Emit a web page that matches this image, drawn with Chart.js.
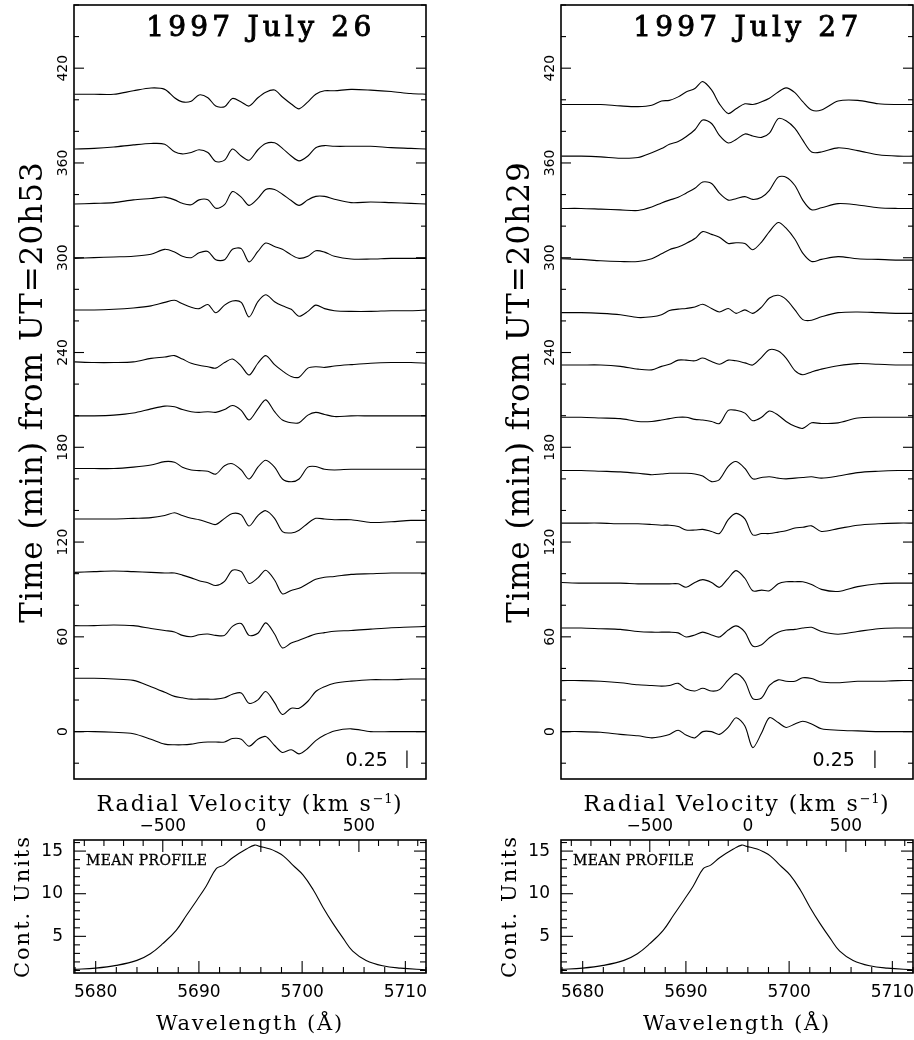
<!DOCTYPE html>
<html><head><meta charset="utf-8"><title>C III 5696 line-profile variations, 1997 July 26 and 27</title>
<script src="https://cdn.jsdelivr.net/npm/chart.js@4.4.1/dist/chart.umd.min.js"></script>
<style>
html,body{margin:0;padding:0;background:#fff}
#wrap{position:relative;width:914px;height:1040px;background:#fff;overflow:hidden}
#wrap canvas{position:absolute;left:0;top:0}
</style></head><body>
<div id="wrap">
<canvas id="p26" width="914" height="1040"></canvas>
<canvas id="p27" width="914" height="1040"></canvas>
<canvas id="m26" width="914" height="1040"></canvas>
<canvas id="m27" width="914" height="1040"></canvas>
</div>
<script>
// ---------------- DATA ----------------
// radial-velocity grid (km/s) shared by all residual spectra
const VEL = [-950,-850,-750,-650,-560,-490,-440,-400,-355,-315,-270,-230,-185,-145,-100,-60,-15,25,70,110,155,195,240,280,325,375,460,560,665,765,850];

// observation times (min from UT start), bottom to top
const JUL26_TIMES = [0, 33.3, 66.2, 100.4, 133.7, 166.1, 199.9, 233.2, 266.9, 299.6, 334.0, 368.8, 403.5];
const JUL27_TIMES = [0, 32.3, 65.6, 94.0, 132.0, 165.3, 199.0, 232.1, 264.8, 298.5, 331.2, 364.3, 397.0];

// residual flux (continuum units) for each time, on the VEL grid
const JUL26_RESID = [
 [0,0,-0.01,-0.03,-0.11,-0.18,-0.19,-0.19,-0.18,-0.16,-0.15,-0.15,-0.15,-0.10,-0.11,-0.21,-0.11,-0.07,-0.20,-0.30,-0.26,-0.32,-0.24,-0.13,-0.05,0.01,0.04,0,0,0,0],
 [0.01,0.01,0,-0.02,-0.11,-0.19,-0.25,-0.27,-0.29,-0.29,-0.29,-0.29,-0.27,-0.22,-0.20,-0.35,-0.30,-0.18,-0.34,-0.51,-0.42,-0.42,-0.32,-0.18,-0.11,-0.06,-0.03,-0.01,-0.01,0,0],
 [0.02,0.02,0.03,0.02,-0.02,-0.05,-0.07,-0.12,-0.14,-0.11,-0.10,-0.12,-0.12,0.01,0.05,-0.12,-0.09,0.06,-0.10,-0.30,-0.23,-0.19,-0.14,-0.10,-0.08,-0.06,-0.05,-0.03,-0.01,0,0.01],
 [0.01,0.02,0.03,0.02,0.01,0,0,-0.03,-0.07,-0.11,-0.14,-0.18,-0.12,0.04,0.02,-0.15,-0.07,0.04,-0.10,-0.30,-0.25,-0.22,-0.15,-0.09,-0.06,-0.05,-0.02,-0.01,0,0,0],
 [0.02,0.02,0.02,0.03,0.04,0.07,0.11,0.07,0.03,0.01,-0.03,-0.06,0.03,0.10,0.08,-0.08,0.07,0.14,0.03,-0.16,-0.18,-0.14,-0.04,0.03,0.02,0.01,0.01,-0.03,-0.02,0,0],
 [0.01,0.01,0.01,0.03,0.06,0.11,0.10,0.03,-0.01,-0.02,-0.03,-0.07,0.05,0.08,-0.01,-0.14,0.03,0.13,0.03,-0.14,-0.18,-0.14,0.03,0.04,0,-0.01,0,0,0,0,0],
 [0,0,0.01,0.04,0.10,0.14,0.13,0.09,0.06,0.05,0.06,0.05,0.09,0.15,0.08,-0.06,0.10,0.23,0.06,-0.06,-0.10,-0.10,0.01,0.05,0.02,-0.01,0,0,0,0,0],
 [0.02,0.01,0.01,0.02,0.07,0.09,0.11,0.06,0,-0.03,-0.05,-0.07,0.01,0.06,-0.04,-0.17,0,0.11,-0.02,-0.11,-0.19,-0.20,-0.07,-0.05,-0.06,-0.04,-0.02,0,0.01,0.01,0],
 [0,0,0.01,0.03,0.06,0.11,0.14,0.09,0.04,0.02,0.08,-0.04,0.07,0.13,0.11,-0.10,0.12,0.22,0.12,0.06,0.01,-0.09,-0.02,0.07,0.02,-0.01,-0.02,-0.02,-0.01,-0.01,0],
 [0,0.01,0.02,0.03,0.06,0.13,0.09,0.03,0.01,0.08,0.10,-0.02,-0.02,0.13,0.14,-0.05,0.10,0.22,0.17,0.13,0.05,0,0.03,0.11,0.09,0.03,-0.01,-0.01,0,0,0],
 [0,0.01,0.02,0.06,0.08,0.10,0.06,0.01,-0.01,0.06,0.06,-0.06,-0.01,0.18,0.10,-0.02,0.08,0.21,0.21,0.14,0.05,-0.02,0.06,0.11,0.11,0.07,0.02,0.03,0.02,0.01,0],
 [0,0.01,0.03,0.06,0.08,0.07,-0.04,-0.07,-0.05,-0.01,-0.05,-0.18,-0.16,0,-0.10,-0.16,-0.01,0.08,0.09,0.01,-0.10,-0.17,-0.10,0.02,0.05,0.04,0.04,0.04,0.02,0.01,0],
 [0,0,0,0.05,0.09,0.07,-0.05,-0.11,-0.10,-0.01,-0.05,-0.17,-0.18,-0.06,-0.11,-0.17,-0.05,0.03,0.06,-0.04,-0.14,-0.21,-0.11,0,0.05,0.05,0.07,0.06,0.04,0.01,0]
];
const JUL27_RESID = [
 [0,0,-0.01,-0.04,-0.06,-0.09,-0.07,-0.04,0.02,-0.05,-0.09,0,0,-0.04,0.06,0.20,0.08,-0.23,-0.02,0.20,0.13,0.06,0.11,0.15,0.11,0.04,0.02,0.01,0,0,0],
 [0,0,-0.01,-0.03,-0.06,-0.07,-0.08,-0.07,-0.04,-0.12,-0.15,-0.11,-0.15,-0.13,0.01,0.10,-0.01,-0.26,-0.25,-0.07,0.01,-0.01,-0.01,0.04,0.03,-0.02,-0.03,-0.01,-0.01,0,0],
 [0,0,-0.01,-0.02,-0.05,-0.06,-0.06,-0.06,-0.07,-0.13,-0.10,-0.06,-0.10,-0.13,-0.03,0.03,-0.06,-0.26,-0.24,-0.14,-0.06,-0.03,-0.02,0,0.01,-0.05,-0.09,-0.05,-0.01,0,0],
 [0.01,0,0,0,-0.01,-0.01,-0.01,-0.01,-0.01,-0.06,0.01,0.05,0.01,-0.06,0.07,0.18,0.07,-0.11,-0.10,-0.11,-0.01,0.02,0.02,0.02,-0.02,-0.09,-0.12,-0.05,-0.01,0,0],
 [0,0,0,-0.01,-0.01,-0.02,-0.03,-0.03,-0.05,-0.10,-0.10,-0.09,-0.12,-0.15,0.05,0.14,0.06,-0.17,-0.15,-0.15,-0.13,-0.11,-0.07,-0.06,-0.04,-0.12,-0.08,-0.03,-0.01,0,0],
 [0,0,-0.01,-0.02,-0.04,-0.06,-0.05,-0.04,-0.04,-0.04,-0.05,-0.08,-0.16,-0.13,0.06,0.13,0.03,-0.12,-0.10,-0.09,-0.11,-0.12,-0.11,-0.10,-0.09,-0.11,-0.08,-0.03,-0.01,0,0],
 [0,0,-0.01,-0.02,-0.06,-0.06,-0.04,-0.02,0,0,-0.03,-0.04,-0.06,-0.09,0.10,0.10,0.06,-0.05,0,0.09,0.03,-0.06,-0.13,-0.16,-0.08,-0.09,-0.08,-0.01,0,0,0],
 [0,0,0,-0.02,-0.06,-0.07,-0.02,0.01,0.07,0.07,0.06,0.10,0.05,0.01,0.07,0.06,0.03,0,0.11,0.22,0.20,0.10,-0.08,-0.14,-0.10,-0.06,-0.01,0.02,0.01,0,0],
 [0.01,0.01,0,-0.02,-0.06,-0.05,-0.02,0.04,0.06,0.07,0.09,0.13,0.07,0.02,0.07,0,0.05,0,0.09,0.22,0.26,0.20,0.05,-0.09,-0.10,-0.05,0.01,0.02,0.01,0,0],
 [0.02,0.01,-0.01,-0.02,-0.02,0.02,0.09,0.15,0.19,0.24,0.31,0.41,0.37,0.33,0.24,0.25,0.24,0.15,0.26,0.41,0.54,0.46,0.30,0.10,-0.02,0.01,0.05,0.02,0.01,0,0],
 [0,0,-0.01,-0.02,-0.03,0.02,0.08,0.12,0.16,0.22,0.29,0.38,0.36,0.22,0.12,0.14,0.17,0.13,0.16,0.26,0.45,0.45,0.33,0.12,-0.02,0.01,0.07,0.05,0.01,0,0],
 [0,0,-0.01,-0.03,-0.02,0.05,0.11,0.17,0.21,0.28,0.38,0.52,0.47,0.30,0.19,0.24,0.32,0.29,0.27,0.33,0.54,0.51,0.40,0.23,0.06,0.06,0.12,0.08,0.02,0,0],
 [0,0,0,-0.02,-0.03,-0.01,0.05,0.06,0.11,0.18,0.23,0.33,0.21,0.01,-0.13,-0.06,0.01,0,0.04,0.09,0.18,0.24,0.17,0.04,-0.08,-0.08,0.05,0.06,0.01,0,0]
];

// mean profile (continuum units) vs wavelength (Angstrom)
const MEAN_WL   = [5677.9,5680,5682,5684,5685.3,5686.5,5687.8,5688.8,5689.8,5690.7,5691.7,5692.4,5693.3,5694.6,5695.4,5695.9,5696.9,5697.5,5698.2,5699.1,5700.1,5701.1,5702,5703,5704,5704.9,5706.2,5707.8,5709.5,5712];
const MEAN_FLUX = [1.12,1.27,1.59,2.18,2.96,4.14,5.71,7.47,9.24,10.88,12.96,13.35,14.25,15.24,15.70,15.55,15.24,14.92,14.41,13.35,12.18,10.41,8.45,6.49,4.73,3.27,2.18,1.55,1.27,1.08];

const TIME_TICKS = [0, 60, 120, 180, 240, 300, 360, 420];
const WL_TICKS = [5680, 5690, 5700, 5710];
const VEL_TICKS = [-500, 0, 500];
const FLUX_TICKS = [5, 10, 15];
const SCALE_BAR = 0.25;

// ---------------- CONSTANTS ----------------
const SCALE = 44;           // minutes of time axis per continuum unit
const WL0 = 5696, CKMS = 299792.458;
const WMIN = 5677.9, WMAX = 5712.0;
const VMIN = (WMIN - WL0) / WL0 * CKMS, VMAX = (WMAX - WL0) / WL0 * CKMS;

// ---------------- DRAWING HELPERS ----------------
function txt(ctx, s, x, y, font, align, ls, rot, stroke) {
  ctx.save();
  ctx.font = font; ctx.textAlign = align || 'left'; ctx.textBaseline = 'alphabetic';
  if ('letterSpacing' in ctx) ctx.letterSpacing = (ls || 0) + 'px';
  ctx.translate(x, y); if (rot) ctx.rotate(rot);
  ctx.fillText(s, 0, 0);
  if (stroke) { ctx.lineWidth = stroke; ctx.strokeText(s, 0, 0); }
  ctx.restore();
}
function seg(ctx, x1, y1, x2, y2) { ctx.beginPath(); ctx.moveTo(x1, y1); ctx.lineTo(x2, y2); ctx.stroke(); }
function velTitle(ctx, cx, y) {
  const parts = [['Radial Velocity (km s', '22px "DejaVu Serif"', 0, 2], ['\u22121', '13px "DejaVu Serif"', -8, 0.5], [')', '22px "DejaVu Serif"', 0, 2]];
  let tot = 0;
  parts.forEach(p => { ctx.font = p[1]; if ('letterSpacing' in ctx) ctx.letterSpacing = p[3] + 'px'; p.w = ctx.measureText(p[0]).width; tot += p.w; });
  let x = cx - tot / 2;
  parts.forEach(p => { txt(ctx, p[0], x, y + p[2], p[1], 'left', p[3]); x += p.w; });
}

const decoPlugin = {
  id: 'deco',
  afterDraw(chart, args, o) {
    const ctx = chart.ctx, a = chart.chartArea;
    ctx.save();
    ctx.strokeStyle = '#000'; ctx.fillStyle = '#000'; ctx.lineWidth = 1.1;
    if (o.kind === 'top') {
      const ys = chart.scales.y, xs = chart.scales.x;
      for (let v = -20; v <= 460; v += 20) {
        const py = ys.getPixelForValue(v), len = (v % 60 === 0) ? 10 : 5;
        seg(ctx, a.left, py, a.left + len, py);
        seg(ctx, a.right, py, a.right - len, py);
      }
      TIME_TICKS.forEach(v => txt(ctx, String(v), a.left - 7, ys.getPixelForValue(v), '14px "DejaVu Sans"', 'center', 0, -Math.PI / 2));
      txt(ctx, o.title, xs.getPixelForValue(0), a.top + 31, '28px "DejaVu Serif"', 'center', 4.2, 0, 0.9);
      txt(ctx, o.ytitle, a.left - 32, (a.top + a.bottom) / 2, '31px "DejaVu Serif"', 'center', 1, -Math.PI / 2);
      // scale bar (0.25 continuum units)
      const bx = xs.getPixelForValue(o.barV);
      ctx.lineWidth = 1.2;
      seg(ctx, bx, ys.getPixelForValue(o.barY0), bx, ys.getPixelForValue(o.barY0 + SCALE_BAR * SCALE));
      txt(ctx, String(SCALE_BAR), xs.getPixelForValue(o.textV), ys.getPixelForValue(o.barY0 + 1), '19px "DejaVu Sans"', 'right', 0);
    } else {
      const ys = chart.scales.y, xs = chart.scales.x, x2 = chart.scales.x2;
      for (let w = 5678; w <= 5712; w += 2) {
        const px = xs.getPixelForValue(w), len = (w % 10 === 0) ? 12 : 6;
        seg(ctx, px, a.bottom, px, a.bottom - len);
      }
      for (let v = -900; v <= 800; v += 100) {
        const px = x2.getPixelForValue(v), len = (v % 500 === 0) ? 12 : 6;
        seg(ctx, px, a.top, px, a.top + len);
      }
      for (let f = 1; f <= 16; f++) {
        const py = ys.getPixelForValue(f), len = (f % 5 === 0) ? 12 : 6;
        seg(ctx, a.left, py, a.left + len, py);
        seg(ctx, a.right, py, a.right - len, py);
      }
      FLUX_TICKS.forEach(f => { ctx.save(); ctx.textBaseline = 'middle'; ctx.font = '17px "DejaVu Sans"'; ctx.textAlign = 'right'; ctx.fillText(String(f), a.left - 11, ys.getPixelForValue(f)); ctx.restore(); });
      WL_TICKS.forEach(w => txt(ctx, String(w), xs.getPixelForValue(w), a.bottom + 24, '17px "DejaVu Sans"', 'center', 0));
      VEL_TICKS.forEach(v => txt(ctx, String(v).replace('-', '\u2212'), x2.getPixelForValue(v), a.top - 9, '17px "DejaVu Sans"', 'center', 0));
      velTitle(ctx, (a.left + a.right) / 2, a.top - 29);
      txt(ctx, 'Wavelength (\u00C5)', (a.left + a.right) / 2, a.bottom + 57, '21px "DejaVu Serif"', 'center', 1.8);
      txt(ctx, 'Cont. Units', a.left - 45, (a.top + a.bottom) / 2, '21px "DejaVu Serif"', 'center', 2, -Math.PI / 2);
      txt(ctx, 'MEAN PROFILE', a.left + 12, a.top + 25, '14px "DejaVu Serif"', 'left', 0.3, 0, 0.3);
    }
    ctx.lineWidth = 1.6;
    ctx.strokeRect(a.left, a.top, a.right - a.left, a.bottom - a.top);
    ctx.restore();
  }
};

function spectra(times, resid) {
  return times.map((t, k) => ({
    data: VEL.map((v, i) => ({ x: v, y: t + resid[k][i] * SCALE })),
    borderColor: '#000', borderWidth: 1.1, pointRadius: 0, tension: 0.3, fill: false
  }));
}

function makeChart(id, datasets, box, scales, deco) {
  return new Chart(document.getElementById(id), {
    type: 'line',
    data: { datasets },
    options: {
      responsive: false, animation: false, devicePixelRatio: 1, events: [],
      parsing: true,
      layout: { padding: { left: box[0], top: box[1], right: 914 - box[2], bottom: 1040 - box[3] } },
      scales,
      plugins: { legend: { display: false }, tooltip: { enabled: false }, deco }
    },
    plugins: [decoPlugin]
  });
}

const topScales = () => ({
  x: { type: 'linear', min: VMIN, max: VMAX, display: false },
  y: { type: 'linear', min: -30, max: 460, display: false }
});
const botScales = () => ({
  x: { type: 'linear', min: WMIN, max: WMAX, display: false },
  x2: { type: 'linear', axis: 'x', position: 'top', min: VMIN, max: VMAX, display: false },
  y: { type: 'linear', min: 0.7, max: 16.3, display: false }
});
const meanSet = () => [{
  data: MEAN_WL.map((w, i) => ({ x: w, y: MEAN_FLUX[i] })),
  xAxisID: 'x', yAxisID: 'y',
  borderColor: '#000', borderWidth: 1.1, pointRadius: 0, tension: 0.4, fill: false
}];

makeChart('p26', spectra(JUL26_TIMES, JUL26_RESID), [74, 5, 426, 779], topScales(),
  { kind: 'top', title: '1997 July 26', ytitle: 'Time (min) from UT=20h53', barV: 745, textV: 648, barY0: -23 });
makeChart('p27', spectra(JUL27_TIMES, JUL27_RESID), [561, 5, 913, 779], topScales(),
  { kind: 'top', title: '1997 July 27', ytitle: 'Time (min) from UT=20h29', barV: 648, textV: 546, barY0: -23 });
makeChart('m26', meanSet(), [74, 840, 426, 973], botScales(), { kind: 'mean' });
makeChart('m27', meanSet(), [561, 840, 913, 973], botScales(), { kind: 'mean' });
</script>
</body></html>
